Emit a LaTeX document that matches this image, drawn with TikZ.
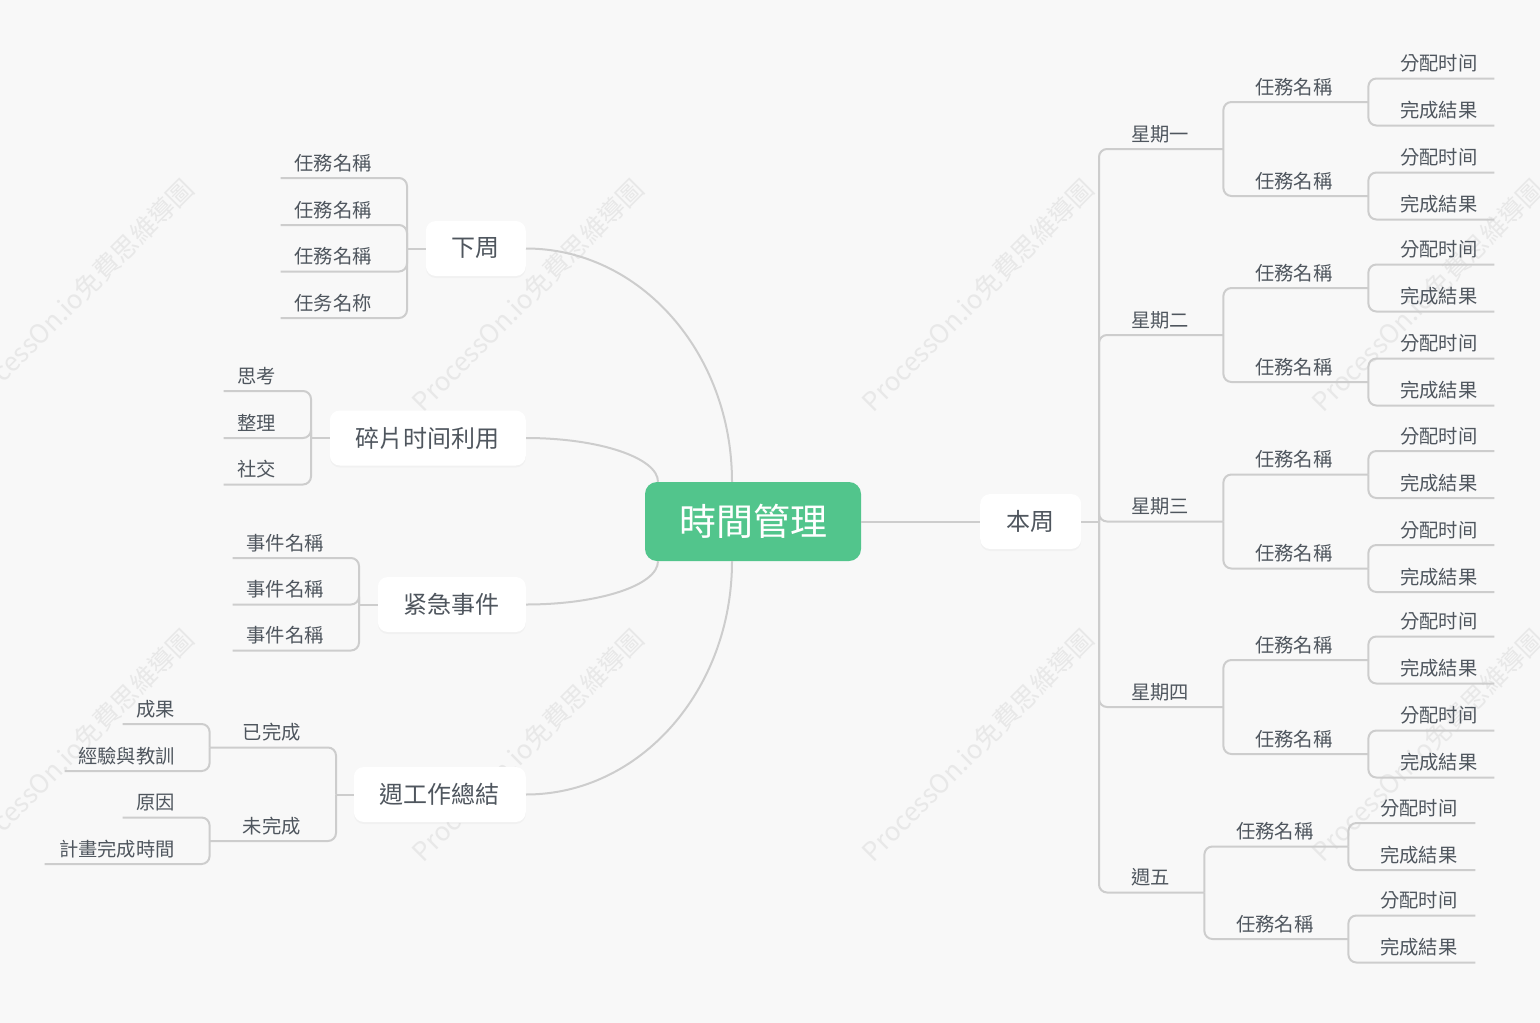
\documentclass[tikz,border=0pt]{standalone}
\usepackage{fontspec}
\setmainfont{Noto Sans CJK TC}
\usetikzlibrary{shadows}
\definecolor{bgc}{HTML}{F8F8F8}
\definecolor{linec}{HTML}{CDCDCD}
\definecolor{txt}{HTML}{4F565E}
\definecolor{rootg}{HTML}{52C58C}
\definecolor{wmc}{HTML}{E8E8E8}
\newcommand\Rl[2]{\makebox[#1pt][l]{\hspace*{32pt}#2}}
\newcommand\Ll[2]{\makebox[#1pt][r]{#2\hspace*{35pt}}}
\begin{document}
\begin{tikzpicture}[x=1pt,y=-1pt,
  link/.style={draw=linec, line width=2pt},
  elbow/.style={link, rounded corners=8pt},
  leaf/.style={inner xsep=0pt, inner ysep=0pt, text height=15pt, text depth=7.7pt,
    font=\fontsize{19.3}{22}\selectfont, text=txt},
  topic/.style={fill=white, rounded corners=10pt, minimum height=55pt, inner sep=0pt,
    font=\fontsize{24}{28}\selectfont, text=txt,
    drop shadow={opacity=0.05, shadow xshift=0pt, shadow yshift=-2pt}},
  rootnode/.style={fill=rootg, text=white, rounded corners=12pt, minimum width=216pt,
    minimum height=79pt, inner sep=0pt, font=\fontsize{37}{44}\selectfont},
  wm/.style={rotate=45, text=wmc, inner sep=0pt, font=\fontsize{26}{30}\selectfont}]

\fill[bgc] (0,0) rectangle (1540,1023);
\useasboundingbox (0,0) rectangle (1540,1023);

% watermarks
\node[wm] (wm1) at (78,295) {ProcessOn.io免費思維導圖};
\node[wm] (wm2) at (528,295) {ProcessOn.io免費思維導圖};
\node[wm] (wm3) at (978,295) {ProcessOn.io免費思維導圖};
\node[wm] (wm4) at (1428,295) {ProcessOn.io免費思維導圖};
\node[wm] (wm5) at (78,745) {ProcessOn.io免費思維導圖};
\node[wm] (wm6) at (528,745) {ProcessOn.io免費思維導圖};
\node[wm] (wm7) at (978,745) {ProcessOn.io免費思維導圖};
\node[wm] (wm8) at (1428,745) {ProcessOn.io免費思維導圖};

% root and main topics
\node[rootnode] (root) at (753,521.5) {時間管理};
\node[topic, minimum width=100pt, anchor=east] (next) at (526,248.5) {下周};
\node[topic, minimum width=196pt, anchor=east] (frag) at (526,438) {碎片时间利用};
\node[topic, minimum width=148pt, anchor=east] (urg) at (526,604.5) {紧急事件};
\node[topic, minimum width=172pt, anchor=east] (sum) at (526,794.5) {週工作總結};
\node[topic, minimum width=101pt, anchor=west] (cur) at (980,521.5) {本周};

% root connectors
\coordinate (rA) at ([xshift=-21pt]root.north);
\coordinate (rB) at ([xshift=-95pt]root.north);
\coordinate (rC) at ([xshift=-95pt]root.south);
\coordinate (rD) at ([xshift=-21pt]root.south);
\draw[link] (next.east) .. controls +(114,0) and +(0,-129) .. (rA);
\draw[link] (frag.east) .. controls +(73,0) and +(0,-24) .. (rB);
\draw[link] (urg.east) .. controls +(73,0) and +(0,24) .. (rC);
\draw[link] (sum.east) .. controls +(114,0) and +(0,129) .. (rD);
\draw[link] (root.east) -- (cur.west);

% 下周
\coordinate (bn) at (407,248.5);
\draw[link] (next.west) -- (bn);
\node[leaf, anchor=south east] (n1) at (407,178) {\Ll{126}{任務名稱}};
\node[leaf, anchor=south east] (n2) at (407,225) {\Ll{126}{任務名稱}};
\node[leaf, anchor=south east] (n3) at (407,271.5) {\Ll{126}{任務名稱}};
\node[leaf, anchor=south east] (n4) at (407,318) {\Ll{126}{任务名称}};
\foreach \c in {n1,n2,n3,n4} \draw[elbow] (bn) |- (\c.south west);

% 碎片时间利用
\coordinate (bf) at (311,438);
\draw[link] (frag.west) -- (bf);
\node[leaf, anchor=south east] (f1) at (311,391) {\Ll{87}{思考}};
\node[leaf, anchor=south east] (f2) at (311,438) {\Ll{87}{整理}};
\node[leaf, anchor=south east] (f3) at (311,484.5) {\Ll{87}{社交}};
\foreach \c in {f1,f2,f3} \draw[elbow] (bf) |- (\c.south west);

% 紧急事件
\coordinate (bu) at (359,604.5);
\draw[link] (urg.west) -- (bu);
\node[leaf, anchor=south east] (u1) at (359,558) {\Ll{126}{事件名稱}};
\node[leaf, anchor=south east] (u2) at (359,604.5) {\Ll{126}{事件名稱}};
\node[leaf, anchor=south east] (u3) at (359,650.5) {\Ll{126}{事件名稱}};
\foreach \c in {u1,u2,u3} \draw[elbow] (bu) |- (\c.south west);

% 週工作總結
\coordinate (bs) at (336,794.5);
\draw[link] (sum.west) -- (bs);
\node[leaf, anchor=south east] (done) at (336,747.5) {\Ll{126}{已完成}};
\node[leaf, anchor=south east] (undone) at (336,841) {\Ll{126}{未完成}};
\draw[elbow] (bs) |- (done.south west);
\draw[elbow] (bs) |- (undone.south west);
\node[leaf, anchor=south east] (d1) at (210,724) {\Ll{87}{成果}};
\node[leaf, anchor=south east] (d2) at (210,771) {\Ll{145}{經驗與教訓}};
\draw[elbow] (done.south west) |- (d1.south west);
\draw[elbow] (done.south west) |- (d2.south west);
\node[leaf, anchor=south east] (e1) at (210,817.5) {\Ll{87}{原因}};
\node[leaf, anchor=south east] (e2) at (210,864) {\Ll{165}{計畫完成時間}};
\draw[elbow] (undone.south west) |- (e1.south west);
\draw[elbow] (undone.south west) |- (e2.south west);

% 本周
\coordinate (bt) at (1099,521.5);
\draw[link] (cur.east) -- (bt);
\foreach \i/\Y/\lbl in {1/149/星期一,2/335/星期二,3/521.5/星期三,4/707/星期四}{
  \node[leaf, anchor=south west] (w\i) at (1099,\Y) {\Rl{124}{\lbl}};
  \draw[elbow] (bt) |- (w\i.south east);
  \foreach \j/\d in {a/-47,b/47}{
    \pgfmathsetmacro\ty{\Y+\d}
    \pgfmathsetmacro\gya{\ty-23.5}
    \pgfmathsetmacro\gyb{\ty+23.5}
    \node[leaf, anchor=south west] (t\i\j) at (1223,\ty) {\Rl{145}{任務名稱}};
    \draw[elbow] (w\i.south east) |- (t\i\j.south east);
    \node[leaf, anchor=south west] (g\i\j1) at (1368,\gya) {\Rl{126}{分配时间}};
    \node[leaf, anchor=south west] (g\i\j2) at (1368,\gyb) {\Rl{126}{完成結果}};
    \draw[elbow] (t\i\j.south east) |- (g\i\j1.south east);
    \draw[elbow] (t\i\j.south east) |- (g\i\j2.south east);
  }
}
% 週五
\node[leaf, anchor=south west] (w5) at (1099,892.5) {\Rl{105}{週五}};
\draw[elbow] (bt) |- (w5.south east);
\foreach \j/\ty in {a/846.5,b/939}{
  \pgfmathsetmacro\gya{\ty-23.5}
  \pgfmathsetmacro\gyb{\ty+23.5}
  \node[leaf, anchor=south west] (t5\j) at (1204,\ty) {\Rl{144}{任務名稱}};
  \draw[elbow] (w5.south east) |- (t5\j.south east);
  \node[leaf, anchor=south west] (g5\j1) at (1348,\gya) {\Rl{127}{分配时间}};
  \node[leaf, anchor=south west] (g5\j2) at (1348,\gyb) {\Rl{127}{完成結果}};
  \draw[elbow] (t5\j.south east) |- (g5\j1.south east);
  \draw[elbow] (t5\j.south east) |- (g5\j2.south east);
}
\end{tikzpicture}
\end{document}
